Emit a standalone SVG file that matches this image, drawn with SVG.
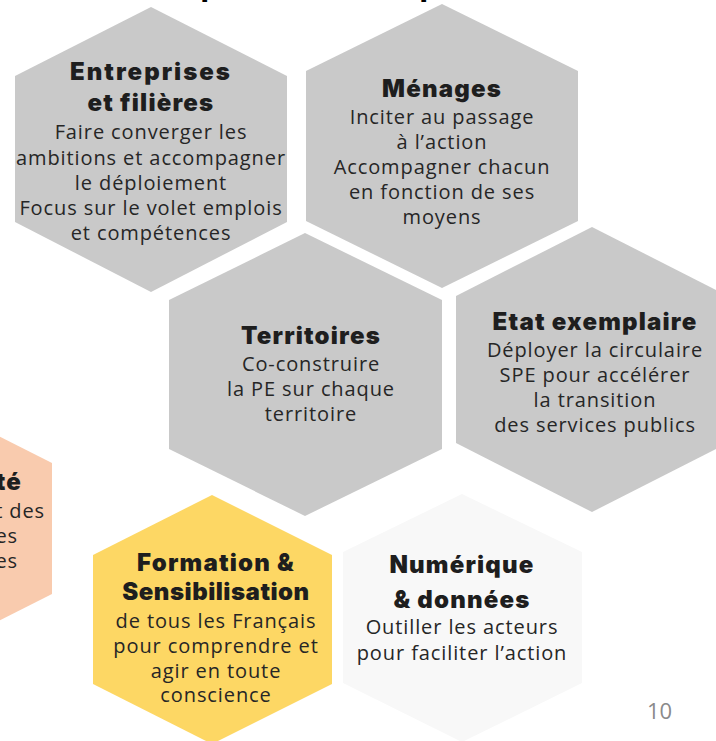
<svg xmlns="http://www.w3.org/2000/svg" width="716" height="741" viewBox="0 0 716 741">
  <style>
    .hex-gray { fill: #c9c9c9; }
    .hex-yellow { fill: #fdd764; }
    .hex-light { fill: #f8f8f8; }
    .hex-peach { fill: #f9cbae; }
    .title { font-family: "Inter", "Lato", "Liberation Sans", sans-serif; font-weight: 900; font-size: 24px; letter-spacing: 1.2px; fill: #1e1e1e; text-anchor: middle; }
    .body { font-family: "Open Sans", "Liberation Sans", sans-serif; font-size: 20px; letter-spacing: 0.9px; fill: #262626; text-anchor: middle; }
    .end { text-anchor: end; }
    .pagenum { font-family: "Open Sans", "Liberation Sans", sans-serif; font-size: 22px; fill: #8a8a8a; }
    .heading { font-family: "Liberation Sans", sans-serif; font-weight: bold; font-size: 34px; fill: #000000; }
  </style>
  <rect width="716" height="741" fill="#ffffff"/>

  <!-- heading above the frame: only its descenders reach into view -->
  <text class="heading" x="200" y="-5">p</text>
  <text class="heading" x="419" y="-5">p</text>

  <!-- partially visible cell on the left edge -->
  <g id="node-left">
    <polygon class="hex-peach" points="-67,403 52,463 52,594 -67,654 -186,594 -186,463"/>
    <text class="title end" x="22" y="490">té</text>
    <text class="body end" x="45" y="518">t des</text>
    <text class="body end" x="18" y="543">es</text>
    <text class="body end" x="18" y="568">es</text>
  </g>

  <g id="node-entreprises">
    <polygon class="hex-gray" points="151,7 287,76 287,222 151,292 15,222 15,76"/>
    <text class="title" x="151" y="80" style="letter-spacing: 2px;">Entreprises</text>
    <text class="title" x="151" y="111">et filières</text>
    <text class="body" x="151" y="139">Faire converger les</text>
    <text class="body" x="151" y="165">ambitions et accompagner</text>
    <text class="body" x="151" y="190">le déploiement</text>
    <text class="body" x="151" y="215">Focus sur le volet emplois</text>
    <text class="body" x="151" y="240">et compétences</text>
  </g>

  <g id="node-menages">
    <polygon class="hex-gray" points="442,4 578,71 578,221 442,288 306,221 306,71"/>
    <text class="title" x="442" y="97">Ménages</text>
    <text class="body" x="442" y="124">Inciter au passage</text>
    <text class="body" x="442" y="149">à l’action</text>
    <text class="body" x="442" y="174">Accompagner chacun</text>
    <text class="body" x="442" y="199">en fonction de ses</text>
    <text class="body" x="442" y="224">moyens</text>
  </g>

  <g id="node-territoires">
    <polygon class="hex-gray" points="305,233 442,300 442,449 305,516 169,449 169,300"/>
    <text class="title" x="311" y="344">Territoires</text>
    <text class="body" x="311" y="371">Co-construire</text>
    <text class="body" x="311" y="396">la PE sur chaque</text>
    <text class="body" x="311" y="421">territoire</text>
  </g>

  <g id="node-etat">
    <polygon class="hex-gray" points="592,227 728,296 728,443 592,512 456,443 456,296"/>
    <text class="title" x="595" y="330">Etat exemplaire</text>
    <text class="body" x="595" y="357">Déployer la circulaire</text>
    <text class="body" x="595" y="382">SPE pour accélérer</text>
    <text class="body" x="595" y="407">la transition</text>
    <text class="body" x="595" y="432">des services publics</text>
  </g>

  <g id="node-formation">
    <polygon class="hex-yellow" points="212,495 332,555 332,684 212,744 93,684 93,555"/>
    <text class="title" x="216" y="571">Formation &amp;</text>
    <text class="title" x="216" y="600" style="letter-spacing: 0.5px;">Sensibilisation</text>
    <text class="body" x="216" y="628">de tous les Français</text>
    <text class="body" x="216" y="653">pour comprendre et</text>
    <text class="body" x="216" y="678">agir en toute</text>
    <text class="body" x="216" y="702">conscience</text>
  </g>

  <g id="node-numerique">
    <polygon class="hex-light" points="462,494 582,552 582,683 462,742 343,683 343,552"/>
    <text class="title" x="462" y="573">Numérique</text>
    <text class="title" x="462" y="608">&amp; données</text>
    <text class="body" x="462" y="634">Outiller les acteurs</text>
    <text class="body" x="462" y="660">pour faciliter l’action</text>
  </g>

  <!-- the cells touch nothing: no connectors -->
  <g id="connectors"/>

  <text class="pagenum" x="647" y="719">10</text>
</svg>
